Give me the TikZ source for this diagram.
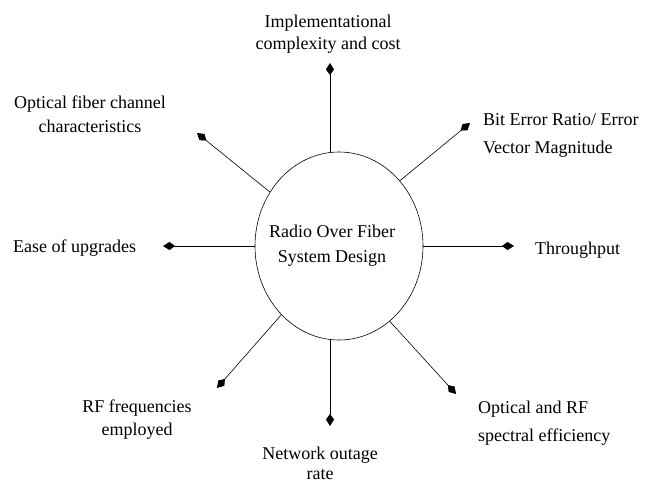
\documentclass[tikz,border=0pt]{standalone}
\usepackage{fontspec}
\setmainfont{Liberation Serif}
\usetikzlibrary{arrows.meta,shapes.geometric}

\newcommand*{\hubx}{339}
\newcommand*{\huby}{246}

\begin{document}
\begin{tikzpicture}
[
	x=1pt,y=-1pt,
	hub/.style={ellipse,draw,line width=0.6pt,inner sep=0pt,minimum width=168pt,minimum height=188pt},
	lbl/.style={inner sep=0pt,font=\fontsize{18}{22}\selectfont},
	spoke/.style={line width=0.6pt,-{Kite[length=12pt,width=8pt,inset=5.5pt]}}
]
	\useasboundingbox (0,0) rectangle (645,484);

	\node[hub] (rof) at (\hubx,\huby) {};
	\node[lbl,align=center] (rof-txt) at (332,\huby) {Radio Over Fiber\\[3pt]System Design};

	% arrow tips
	\coordinate (tip-cost) at (330,63);
	\coordinate (tip-ber) at (470,123);
	\coordinate (tip-thru) at (514,246);
	\coordinate (tip-eff) at (456,394);
	\coordinate (tip-out) at (330,426);
	\coordinate (tip-rf) at (217,388);
	\coordinate (tip-ease) at (163,246);
	\coordinate (tip-fiber) at (197,133);

	% spokes
	\draw[spoke] (rof.north -| tip-cost) -- (tip-cost);
	\draw[spoke] (rof.47.3) -- (tip-ber);
	\draw[spoke] (rof.east) -- (tip-thru);
	\draw[spoke] (rof.304) -- (tip-eff);
	\draw[spoke] (rof.south -| tip-out) -- (tip-out);
	\draw[spoke] (rof.230.9) -- (tip-rf);
	\draw[spoke] (rof.west) -- (tip-ease);
	\draw[spoke] (rof.142.7) -- (tip-fiber);

	% labels
	\node[lbl,align=center,anchor=north] (lbl-cost) at (328,15) {Implementational\\complexity and cost};
	\node[lbl,align=left,anchor=north west] (lbl-ber) at (483,113) {Bit Error Ratio/ Error\\[6pt]Vector Magnitude};
	\node[lbl,anchor=base west] (lbl-thru) at (535,254) {Throughput};
	\node[lbl,align=left,anchor=north west] (lbl-eff) at (478,401) {Optical and RF\\[6pt]spectral efficiency};
	\node[lbl,align=center,anchor=north] (lbl-out) at (320,447) {Network outage\\[-2pt]rate};
	\node[lbl,align=center,anchor=north] (lbl-rf) at (137,400) {RF frequencies\\[1pt]employed};
	\node[lbl,anchor=base west] (lbl-ease) at (13,252) {Ease of upgrades};
	\node[lbl,align=center,anchor=north] (lbl-fiber) at (90,96) {Optical fiber channel\\[2pt]characteristics};

\end{tikzpicture}
\end{document}
